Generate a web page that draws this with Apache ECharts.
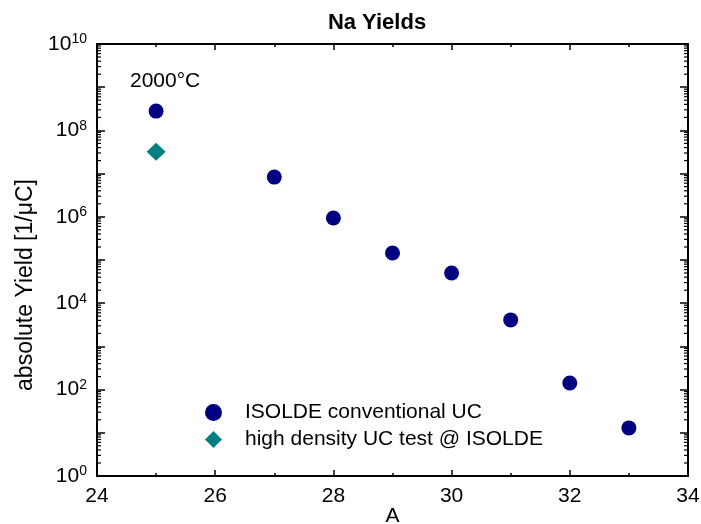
<!DOCTYPE html>
<html><head><meta charset="utf-8">
<script src="https://cdn.jsdelivr.net/npm/echarts@6/dist/echarts.min.js"></script>
<style>html,body{margin:0;padding:0;background:#fff}#c{width:701px;height:524px}</style>
</head><body><div id="c"></div>
<script>
const massNumbers = [25, 27, 28, 29, 30, 31, 32, 33];
const conventionalYields = [2.8e8, 8.3e6, 9.4e5, 1.45e5, 5.0e4, 4.1e3, 1.42e2, 13];
const hdMass = [25];
const hdYields = [3.2e7];
const seriesNames = ['ISOLDE conventional UC', 'high density UC test @ ISOLDE'];
const xTicks = [24, 26, 28, 30, 32, 34];
const yDecadeLabels = [0, 2, 4, 6, 8, 10];
const annotation = '2000°C';

const FONT = 'Liberation Sans, Arial, sans-serif';
const minorVals = [];
for (let k = 0; k < 10; k++) for (let m = 2; m <= 9; m++) minorVals.push([24, m * Math.pow(10, k)]);

const chart = echarts.init(document.getElementById('c'));
const yLabelFmt = v => {
  const e = Math.round(Math.log10(v));
  if (yDecadeLabels.indexOf(e) < 0) return '';
  return '{b|10}{e|' + e + '}';
};
chart.setOption({
  animation: false,
  backgroundColor: '#fff',
  title: { text: 'Na Yields', left: 372, top: 7, textAlign: 'center',
    textStyle: { fontFamily: FONT, fontSize: 22, fontWeight: 'bold', color: '#000' } },
  grid: { left: 97, right: 13, top: 44, bottom: 48, containLabel: false, outerBoundsMode: 'none' },
  legend: {
    orient: 'vertical', left: 205, top: 402, padding: 0, itemGap: 6,
    itemWidth: 17, itemHeight: 17,
    data: seriesNames,
    textStyle: { fontFamily: FONT, fontSize: 21, color: '#000', padding: [0, 0, 0, 18] }
  },
  xAxis: [{
    type: 'value', min: 24, max: 34, interval: 2,
    name: 'A', nameLocation: 'middle', nameGap: 30, nameMoveOverlap: false,
    nameTextStyle: { fontFamily: FONT, fontSize: 21, color: '#000' },
    axisLine: { lineStyle: { color: '#000', width: 2 } },
    axisTick: { inside: true, length: 6, lineStyle: { color: '#000', width: 1.5 } },
    minorTick: { show: true, splitNumber: 2, length: 3, lineStyle: { color: '#000', width: 1.5 } },
    axisLabel: { fontFamily: FONT, fontSize: 21, color: '#000', margin: 10,
      formatter: v => xTicks.indexOf(v) >= 0 ? String(v) : '' },
    splitLine: { show: false }
  }, {
    type: 'value', min: 24, max: 34, interval: 2, position: 'top',
    axisLine: { onZero: false, lineStyle: { color: '#000', width: 2 } },
    axisTick: { inside: true, length: 6, lineStyle: { color: '#000', width: 1.5 } },
    minorTick: { show: true, splitNumber: 2, length: 3, lineStyle: { color: '#000', width: 1.5 } },
    axisLabel: { show: false }, splitLine: { show: false }
  }],
  yAxis: [{
    type: 'log', logBase: 10, min: 1, max: 1e10, interval: 1,
    name: 'absolute Yield [1/\u03bcC]', nameLocation: 'middle', nameGap: 60, nameMoveOverlap: false,
    nameTextStyle: { fontFamily: FONT, fontSize: 23, color: '#000', padding: [0, 50, 0, 0] },
    axisLine: { lineStyle: { color: '#000', width: 2 } },
    axisTick: { inside: true, length: 8, lineStyle: { color: '#000', width: 1.5 } },
    axisLabel: { fontFamily: FONT, color: '#000', margin: 10, formatter: yLabelFmt,
      rich: { b: { fontFamily: FONT, fontSize: 21, color: '#000' },
              e: { fontFamily: FONT, fontSize: 14, color: '#000', padding: [0, 0, 9, 0] } } },
    splitLine: { show: false }
  }, {
    type: 'log', logBase: 10, min: 1, max: 1e10, interval: 1, position: 'right',
    axisLine: { onZero: false, lineStyle: { color: '#000', width: 2 } },
    axisTick: { inside: true, length: 8, lineStyle: { color: '#000', width: 1.5 } },
    axisLabel: { show: false }, splitLine: { show: false }
  }],
  series: [{
    name: seriesNames[0], type: 'scatter', symbol: 'circle', symbolSize: 15,
    itemStyle: { color: '#000080', opacity: 1 },
    data: massNumbers.map((a, i) => [a, conventionalYields[i]]),
    label: { show: true, position: 'top', distance: 5, offset: [9, -7],
      fontFamily: FONT, fontSize: 21, color: '#000',
      formatter: p => p.dataIndex === 0 ? annotation : '' },
    z: 3
  }, {
    name: seriesNames[1], type: 'scatter', symbol: 'diamond', symbolSize: [19, 18],
    itemStyle: { color: '#008080', opacity: 1 },
    data: hdMass.map((a, i) => [a, hdYields[i]]),
    z: 3
  }, {
    type: 'custom', silent: true, z: 5,
    data: minorVals,
    renderItem: (params, api) => {
      const y = api.coord([api.value(0), api.value(1)])[1];
      const cs = params.coordSys;
      const st = { stroke: '#000', lineWidth: 1.2 };
      return { type: 'group', children: [
        { type: 'line', shape: { x1: cs.x, y1: y, x2: cs.x + 4, y2: y }, style: st },
        { type: 'line', shape: { x1: cs.x + cs.width - 4, y1: y, x2: cs.x + cs.width, y2: y }, style: st }
      ] };
    }
  }]
});
</script></body></html>
